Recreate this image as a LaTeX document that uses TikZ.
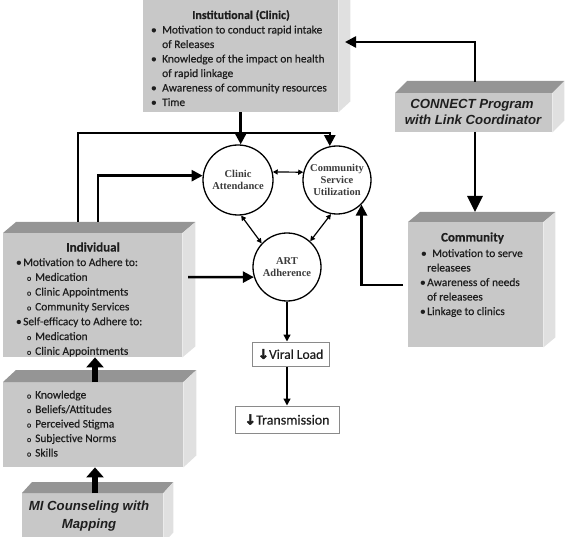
\documentclass[tikz,border=0pt]{standalone}
\usepackage{fontspec}
\setmainfont[FakeBold=0.4]{Carlito}
\newfontfamily\arialf{Liberation Sans}
\newfontfamily\serf{Liberation Serif}
\newfontfamily\arrowf[FakeBold=2.5]{DejaVu Sans}
\usetikzlibrary{arrows.meta,calc}
\definecolor{frontc}{HTML}{C8C8C8}
\definecolor{topc}{HTML}{959595}
\definecolor{sidec}{HTML}{E0E0E0}
\definecolor{txtc}{HTML}{1E1E1E}
\definecolor{circtxt}{HTML}{3C3C3C}
\definecolor{boxline}{HTML}{8A8A8A}
\newcommand\bul[1]{\llap{•\hspace{#1}}}
\newcommand\subb{\llap{\fontsize{8}{8}\selectfont o\hspace{4pt}}}
\newcommand\threed[3]{%
  \fill[topc] (#1.north west) -- ++(#2,-#3) -- ($(#1.north east)+(#2,-#3)$) -- (#1.north east) -- cycle;
  \fill[sidec] (#1.north east) -- ++(#2,-#3) -- ($(#1.south east)+(#2,-#3)$) -- (#1.south east) -- cycle;}
\tikzset{
  front/.style={fill=frontc, inner sep=0pt, anchor=north west},
  txt/.style={anchor=base west, inner sep=0pt, font=\fontsize{11.4}{13}\selectfont, text=txtc},
  ttl/.style={anchor=base, inner sep=0pt, font=\bfseries\fontsize{13}{15}\selectfont, text=txtc},
  bigit/.style={anchor=base, inner sep=0pt, font=\arialf\bfseries\itshape\fontsize{13.2}{15}\selectfont, text=txtc},
  circ/.style={circle, draw, line width=1.3pt, fill=white, inner sep=0pt, align=center,
    font=\serf\bfseries\fontsize{10.5}{12}\selectfont, text=circtxt},
  outbox/.style={draw=boxline, line width=1pt, fill=white, inner sep=0pt, font=\fontsize{13.5}{15}\selectfont, text=txtc},
  thickar/.style={line width=2.5pt, -{Triangle[length=11pt,width=11pt]}},
  bigar/.style={line width=2.8pt, -{Triangle[length=16pt,width=15pt]}},
  thinar/.style={line width=1.2pt, {Triangle[length=5pt,width=5pt]}-{Triangle[length=5pt,width=5pt]}},
  blockar/.style={line width=6pt, -{Triangle[length=10pt,width=17pt]}},
  medar/.style={line width=1.4pt, -{Triangle[length=7pt,width=7pt]}}
}
\begin{document}
\begin{tikzpicture}[x=1pt,y=-1pt]
\useasboundingbox (0,0) rectangle (567,537);
\clip (0,0) rectangle (567,537);

% ---- 3D boxes ----
\node[front, minimum width=195pt, minimum height=112pt] (inst) at (143,0) {};
\threed{inst}{12}{11}
\node[front, minimum width=157pt, minimum height=39pt] (conn) at (395,93) {};
\threed{conn}{12}{12}
\node[front, minimum width=135pt, minimum height=125pt] (comm) at (408,222) {};
\threed{comm}{12}{10}
\node[front, minimum width=179pt, minimum height=124pt] (ind) at (3,233) {};
\threed{ind}{13}{11}
\node[front, minimum width=180pt, minimum height=85pt] (know) at (3,382) {};
\threed{know}{13}{12}
\node[front, minimum width=141pt, minimum height=50pt] (mi) at (22,493) {};
\threed{mi}{10}{11}

% ---- Institutional text ----
\node[ttl, font=\bfseries\fontsize{12}{14}\selectfont] (instT) at (241,19) {Institutional (Clinic)};
\node[txt] (inst1) at (162,33.5) {\bul{5.5pt}Motivation to conduct rapid intake};
\node[txt] (inst2) at (162,48) {of Releases};
\node[txt] (inst3) at (162,62.5) {\bul{5.5pt}Knowledge of the impact on health};
\node[txt] (inst4) at (162,77) {of rapid linkage};
\node[txt] (inst5) at (162,91.5) {\bul{5.5pt}Awareness of community resources};
\node[txt] (inst6) at (162,106) {\bul{5.5pt}Time};

% ---- CONNECT text ----
\node[bigit] (conn1) at (472,109) {CONNECT Program};
\node[bigit] (conn2) at (473,124.5) {with Link Coordinator};

% ---- Community text ----
\node[ttl] (commT) at (472.5,241.5) {Community};
\node[txt] (comm1) at (432,257) {\bul{5.5pt}Motivation to serve};
\node[txt] (comm2) at (427,271.5) {releasees};
\node[txt] (comm3) at (427,286) {\bul{1.5pt}Awareness of needs};
\node[txt] (comm4) at (427,300.5) {of releasees};
\node[txt] (comm5) at (427,315) {\bul{1.5pt}Linkage to clinics};

% ---- Individual text ----
\node[ttl] (indT) at (93,251.5) {Individual};
\node[txt] (ind1) at (23,266) {\bul{1.5pt}Motivation to Adhere to:};
\node[txt] (ind2) at (35,280.8) {\subb Medication};
\node[txt] (ind3) at (35,295.6) {\subb Clinic Appointments};
\node[txt] (ind4) at (35,310.4) {\subb Community Services};
\node[txt] (ind5) at (23,325.2) {\bul{1.5pt}Self-efficacy to Adhere to:};
\node[txt] (ind6) at (35,340) {\subb Medication};
\node[txt] (ind7) at (35,354.8) {\subb Clinic Appointments};

% ---- Knowledge text ----
\node[txt] (kn1) at (35,398.5) {\subb Knowledge};
\node[txt] (kn2) at (35,413) {\subb Beliefs/Attitudes};
\node[txt] (kn3) at (35,427.5) {\subb Perceived Stigma};
\node[txt] (kn4) at (35,442) {\subb Subjective Norms};
\node[txt] (kn5) at (35,456.5) {\subb Skills};

% ---- MI text ----
\node[bigit] (mi1) at (89,510) {MI Counseling with};
\node[bigit] (mi2) at (89,528) {Mapping};

% ---- circles ----
\node[circ, minimum size=70pt] (clinic) at (238,180) {Clinic\\Attendance};
\node[circ, minimum size=68pt] (csu) at (337,180) {Community\\Service\\Utilization};
\node[circ, minimum size=68pt] (art) at (287,267) {ART\\Adherence};

% ---- outcome boxes ----
\node[outbox, minimum width=77pt, minimum height=24pt] (viral) at (290.5,354) {{\arrowf\bfseries ↓}Viral Load};
\node[outbox, minimum width=104pt, minimum height=27pt, font=\fontsize{14}{16}\selectfont] (trans) at (287,419.5) {{\arrowf\bfseries ↓}Transmission};

% ---- coordinates ----
\coordinate (ia) at (78,222);
\coordinate (ib) at (98,222);
\coordinate (ir) at (188,277);
\coordinate (cl) at (403,285);
\coordinate (ct) at (475,82);
\coordinate (ie) at (345,42);
\coordinate (cb) at (475,132);
\coordinate (cmt) at (475,212);

% ---- connectors ----
\draw[thickar] (inst.south) -- (inst.south |- clinic.north);
\draw[thickar] (ia) -- (ia |- 0,133) -| (csu.102);
\draw[thickar] (ib) |- (clinic.173);
\draw[thickar] (ir) -- (art.197);
\draw[thickar] (cl) -| (csu.south east);
\draw[thickar] (ct) |- (ie);
\draw[bigar] (cb) -- (cmt);
\draw[thinar] (clinic.13) -- (csu.167);
\draw[thinar] (clinic.-85) -- (art.137);
\draw[thinar] (csu.-100) -- (art.48);
\draw[medar] (art.south) -- (art.south |- viral.north);
\draw[medar] (viral.south -| art.south) -- (trans.north -| art.south);
\draw[blockar] (mi.north -| 95,0) -- (know.south -| 95,0);
\draw[blockar] (know.north -| 95,0) -- (ind.south -| 95,0);
\end{tikzpicture}
\end{document}
